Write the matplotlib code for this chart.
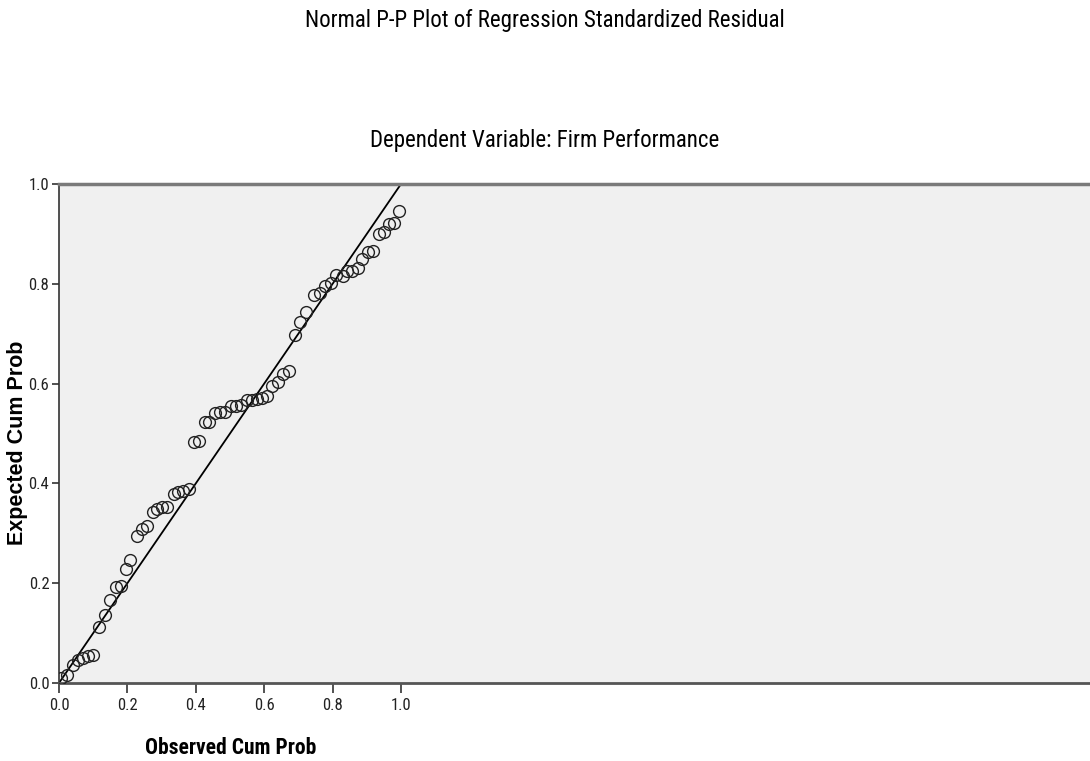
import matplotlib.pyplot as plt

# observed vs expected cumulative probabilities
observed = [0.007, 0.024, 0.041, 0.056, 0.070, 0.085, 0.100, 0.117, 0.134, 0.149,
            0.166, 0.180, 0.196, 0.209, 0.227, 0.242, 0.256, 0.274, 0.288, 0.300,
            0.315, 0.335, 0.349, 0.364, 0.379, 0.395, 0.410, 0.427, 0.440, 0.457,
            0.471, 0.486, 0.503, 0.519, 0.532, 0.550, 0.564, 0.579, 0.594, 0.609,
            0.623, 0.640, 0.656, 0.672, 0.689, 0.704, 0.721, 0.747, 0.763, 0.779,
            0.795, 0.809, 0.829, 0.843, 0.858, 0.873, 0.887, 0.904, 0.917, 0.936,
            0.949, 0.966, 0.980, 0.995]
expected = [0.010, 0.017, 0.037, 0.047, 0.051, 0.054, 0.056, 0.112, 0.137, 0.166,
            0.193, 0.195, 0.228, 0.247, 0.294, 0.308, 0.315, 0.342, 0.349, 0.352,
            0.352, 0.379, 0.382, 0.384, 0.389, 0.482, 0.484, 0.524, 0.524, 0.541,
            0.543, 0.543, 0.556, 0.556, 0.558, 0.568, 0.568, 0.570, 0.572, 0.576,
            0.595, 0.603, 0.619, 0.626, 0.697, 0.724, 0.744, 0.777, 0.782, 0.795,
            0.801, 0.817, 0.815, 0.825, 0.826, 0.832, 0.849, 0.864, 0.866, 0.900,
            0.903, 0.920, 0.922, 0.945]
ticks = [0.0, 0.2, 0.4, 0.6, 0.8, 1.0]
tick_labels = ['0.0', '0.2', '0.4', '0.6', '0.8', '1.0']

narrow = ['Roboto Condensed', 'DejaVu Sans']

fig = plt.figure(figsize=(10.9, 7.61), dpi=100)
ax = fig.add_axes([59 / 1090, 1 - 683 / 761, 1 - 59 / 1090, (683 - 184) / 761])
ax.set_facecolor('#f0f0f0')

ax.plot([0, 1], [0, 1], color='black', lw=1.3, zorder=2)
ax.plot(observed, expected, 'o', mfc='none', mec='#222222', ms=8.5, mew=1.0, zorder=3)

ax.set_xlim(0, (1090 - 59) / 342)
ax.set_ylim(0, 1)
ax.set_xticks(ticks)
ax.set_xticklabels(tick_labels, family=narrow, fontsize=12, color='#222222')
ax.set_yticks(ticks)
ax.set_yticklabels(tick_labels, family=narrow, fontsize=12, color='#222222')
ax.tick_params(axis='x', direction='out', length=7, width=1.2, color='#333333', pad=4)
ax.tick_params(axis='y', direction='out', length=5, width=1.2, color='#333333', pad=2)

ax.spines['right'].set_visible(False)
ax.spines['top'].set_color('#7a7a7a')
ax.spines['top'].set_linewidth(2.5)
ax.spines['bottom'].set_color('#555555')
ax.spines['bottom'].set_linewidth(2.0)
ax.spines['left'].set_color('#333333')
ax.spines['left'].set_linewidth(1.2)

fig.text(0.5, 1 - 20 / 761, 'Normal P-P Plot of Regression Standardized Residual',
         ha='center', va='center', family=narrow, fontsize=16.5)
fig.text(0.5, 1 - 141 / 761, 'Dependent Variable: Firm Performance',
         ha='center', va='center', family=narrow, fontsize=16.5)
fig.text(231 / 1090, 1 - 748 / 761, 'Observed Cum Prob',
         ha='center', va='center', family=narrow, fontsize=15.5, fontweight='bold')
fig.text(18 / 1090, 1 - 443 / 761, 'Expected Cum Prob', rotation=90,
         ha='center', va='center', family='Liberation Sans', fontsize=15.5, fontweight='bold')

fig.savefig('out.png', dpi=100)
